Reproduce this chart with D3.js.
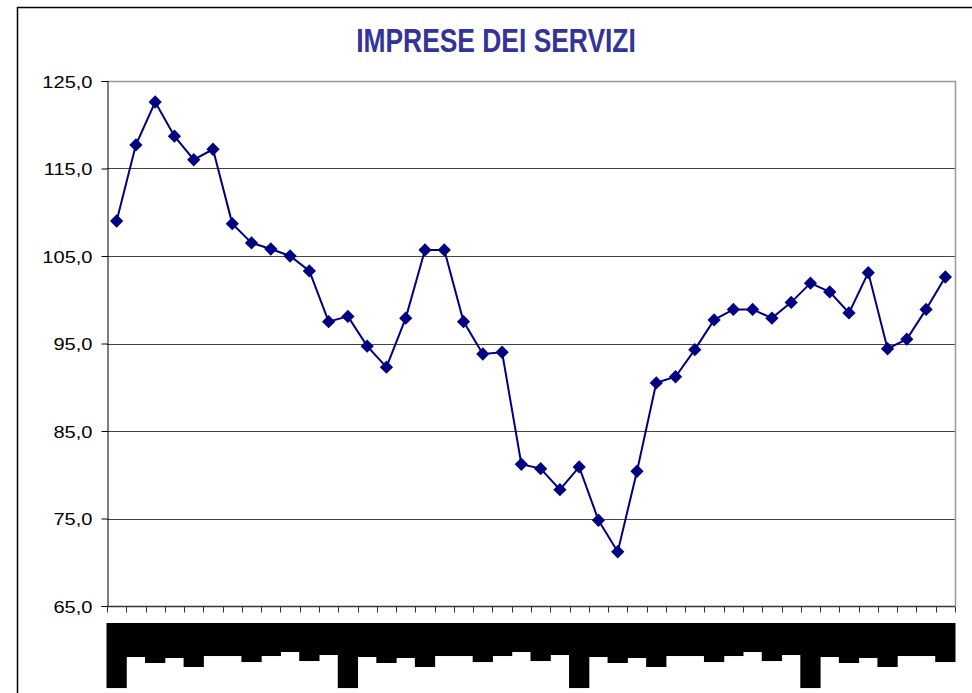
<!DOCTYPE html>
<html>
<head>
<meta charset="utf-8">
<script src="https://cdn.jsdelivr.net/npm/d3@7"></script>
<style>
  body { margin: 0; background: #fff; }
  svg { display: block; font-family: "Liberation Sans", Arial, sans-serif; }
</style>
</head>
<body>
<script>
/* DATA */
const monthNames = ["gen-07", "feb", "mar", "apr", "mag", "giu", "lug", "ago", "set", "ott", "nov", "dic",
  "gen-08", "feb", "mar", "apr", "mag", "giu", "lug", "ago", "set", "ott", "nov", "dic",
  "gen-09", "feb", "mar", "apr", "mag", "giu", "lug", "ago", "set", "ott", "nov", "dic",
  "gen-10", "feb", "mar", "apr", "mag", "giu", "lug", "ago"];
const values = [109.0, 117.7, 122.6, 118.7, 116.0, 117.2, 108.7, 106.5, 105.8, 105.0, 103.3, 97.5,
  98.1, 94.7, 92.3, 97.9, 105.7, 105.7, 97.5, 93.8, 94.0, 81.2, 80.7, 78.3,
  80.9, 74.8, 71.2, 80.4, 90.5, 91.2, 94.3, 97.7, 98.9, 98.9, 97.9, 99.7,
  101.9, 100.9, 98.5, 103.1, 94.4, 95.5, 98.9, 102.6];
const yTicks = [65, 75, 85, 95, 105, 115, 125];
const title = "IMPRESE DEI SERVIZI";

/* LAYOUT */
const width = 972, height = 693;
const margin = { top: 81, right: 17, bottom: 87, left: 107 };

const svg = d3.select("body").append("svg")
  .attr("width", width)
  .attr("height", height);

// outer chart frame (runs off the right and bottom edges)
svg.append("rect")
  .attr("x", 17.5).attr("y", 7.5)
  .attr("width", 1000).attr("height", 1000)
  .attr("fill", "#fff")
  .attr("stroke", "#000")
  .attr("stroke-width", 1.5);

// title, condensed
svg.append("text")
  .attr("transform", "translate(496,52) scale(0.8,1)")
  .attr("text-anchor", "middle")
  .attr("font-size", 33)
  .attr("font-weight", "bold")
  .attr("fill", "#333399")
  .text(title);

const x = d3.scaleBand()
  .domain(d3.range(values.length))
  .range([margin.left, width - margin.right]);

const y = d3.scaleLinear()
  .domain([65, 125])
  .range([height - margin.bottom, margin.top]);

// gridlines
svg.append("g")
  .selectAll("line")
  .data(yTicks.slice(1, -1))
  .join("line")
  .attr("x1", margin.left).attr("x2", width - margin.right)
  .attr("y1", d => Math.round(y(d)) + 0.5).attr("y2", d => Math.round(y(d)) + 0.5)
  .attr("stroke", "#444");

// plot area border (top + right)
svg.append("path")
  .attr("d", `M${margin.left},${Math.round(y(125)) + 0.5}H${width - margin.right + 0.5}V${Math.round(y(65))}`)
  .attr("fill", "none")
  .attr("stroke", "#999")
  .attr("stroke-width", 1.5);

// y axis
const yAxis = svg.append("g")
  .attr("transform", `translate(${margin.left + 0.5},0)`)
  .call(d3.axisLeft(y).tickValues(yTicks).tickSize(6).tickFormat(d => d3.format(".1f")(d).replace(".", ",")));
yAxis.select(".domain").attr("stroke", "#000");
yAxis.selectAll(".tick line").attr("stroke", "#000");
yAxis.selectAll(".tick text")
  .attr("x", 0)
  .attr("dy", "0.36em")
  .attr("font-size", 17)
  .attr("font-family", "'Liberation Sans', Arial, sans-serif")
  .attr("fill", "#000")
  .attr("transform", "translate(-15,0) scale(1.18,1)");

// x axis
const xAxis = svg.append("g")
  .attr("transform", `translate(0,${Math.round(y(65)) + 0.5})`);
xAxis.append("line")
  .attr("x1", margin.left).attr("x2", width - margin.right)
  .attr("stroke", "#333").attr("stroke-width", 1.5);
xAxis.selectAll(".tk")
  .data(d3.range(values.length + 1))
  .join("line")
  .attr("class", "tk")
  .attr("x1", d => Math.round(margin.left + d * x.step()) + 0.5)
  .attr("x2", d => Math.round(margin.left + d * x.step()) + 0.5)
  .attr("y1", 0).attr("y2", 6)
  .attr("stroke", "#333");

// category labels: rotated text on black blocks, as in the original picture
const labelTop = 623;
const labels = svg.append("g");
const lab = labels.selectAll("g")
  .data(monthNames)
  .join("g");
lab.append("text")
  .attr("transform", (d, i) => `translate(${x(i) + 4.5},${labelTop + 3}) rotate(90)`)
  .attr("font-size", 18)
  .attr("fill", "#000")
  .text(d => d);
lab.insert("rect", "text")
  .attr("x", (d, i) => x(i) - 0.5)
  .attr("y", labelTop)
  .attr("width", x.step() + 1)
  .attr("height", function () {
    return this.parentNode.querySelector("text").getComputedTextLength() + 9;
  })
  .attr("fill", "#000");

// series line
const line = d3.line()
  .x((d, i) => x(i) + x.bandwidth() / 2)
  .y(d => y(d));

svg.append("path")
  .datum(values)
  .attr("d", line)
  .attr("fill", "none")
  .attr("stroke", "#000080")
  .attr("stroke-width", 2);

// diamond markers
svg.append("g")
  .selectAll("path")
  .data(values)
  .join("path")
  .attr("transform", (d, i) => `translate(${x(i) + x.bandwidth() / 2},${y(d)}) rotate(45)`)
  .attr("d", d3.symbol(d3.symbolSquare, 88))
  .attr("fill", "#000080");
</script>
</body>
</html>
